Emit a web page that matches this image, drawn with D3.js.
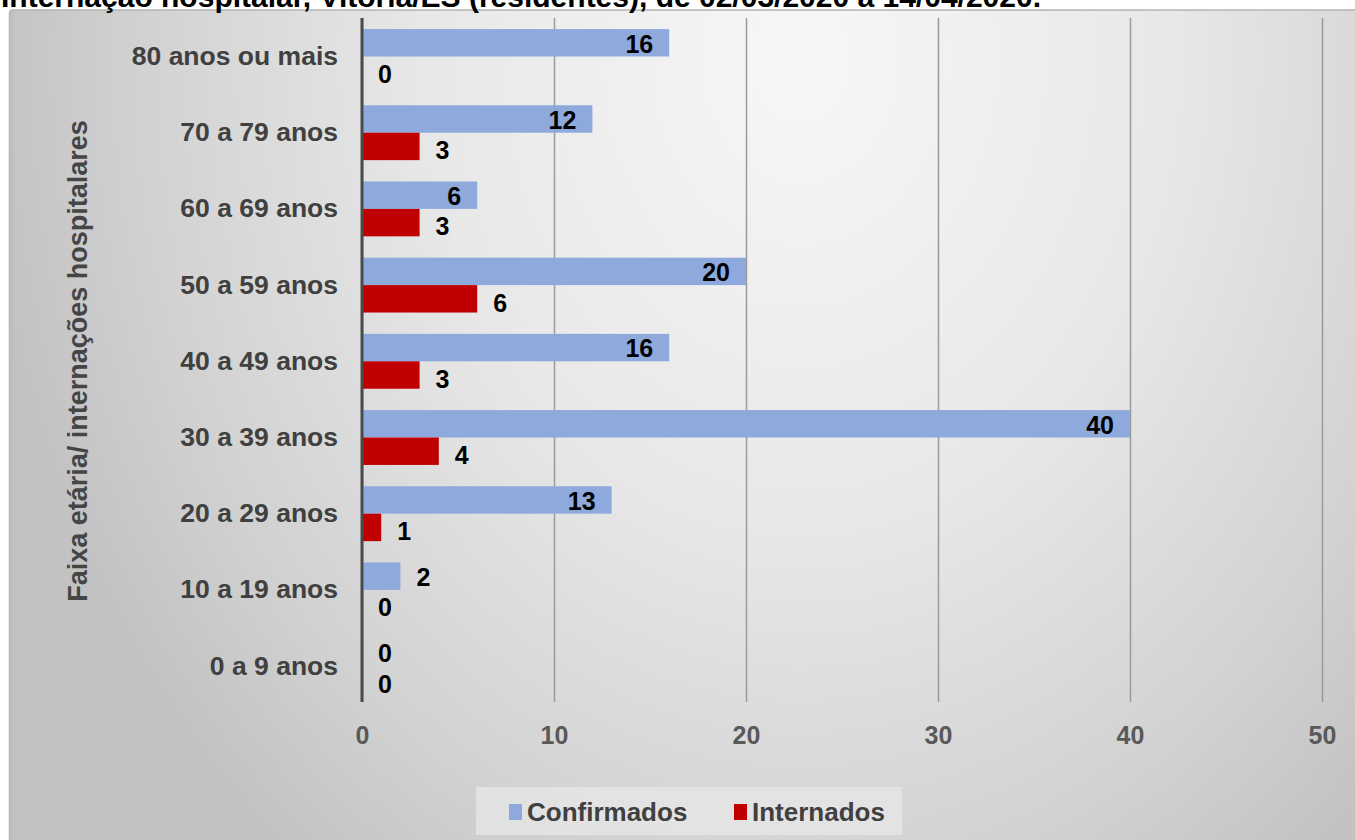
<!DOCTYPE html>
<html>
<head>
<meta charset="utf-8">
<script src="https://cdn.jsdelivr.net/npm/d3@7"></script>
<style>
  html, body { margin: 0; padding: 0; background: #ffffff; }
  svg { display: block; font-family: "Liberation Sans", Arial, sans-serif; }
</style>
</head>
<body>
<svg id="chart" width="1355" height="840"></svg>
<script>
// ---- data ----
const titleText = "Internação hospitalar, Vitória/ES (residentes), de 02/03/2020 a 14/04/2020.";
const yAxisTitle = "Faixa etária/ internações hospitalares";
const categories = ["80 anos ou mais", "70 a 79 anos", "60 a 69 anos", "50 a 59 anos", "40 a 49 anos",
                    "30 a 39 anos", "20 a 29 anos", "10 a 19 anos", "0 a 9 anos"];
const confirmados = [16, 12, 6, 20, 16, 40, 13, 2, 0];
const internados  = [0, 3, 3, 6, 3, 4, 1, 0, 0];
const seriesNames = ["Confirmados", "Internados"];
const xTicks = [0, 10, 20, 30, 40, 50];

// ---- layout/styles ----
const W = 1355, H = 840;
const colors = { Confirmados: "#8eaadc", Internados: "#c00000" };
const svg = d3.select("#chart");
const defs = svg.append("defs");

const grad = defs.append("radialGradient")
  .attr("id", "bg").attr("gradientUnits", "userSpaceOnUse")
  .attr("cx", 800).attr("cy", 60).attr("r", 820)
  .attr("gradientTransform", "translate(800,60) scale(1,1.25) translate(-800,-60)");
grad.append("stop").attr("offset", "0%").attr("stop-color", "#f7f7f7");
grad.append("stop").attr("offset", "45%").attr("stop-color", "#e8e8e8");
grad.append("stop").attr("offset", "80%").attr("stop-color", "#d2d2d2");
grad.append("stop").attr("offset", "100%").attr("stop-color", "#c2c2c2");

// chart panel
svg.append("rect").attr("x", 9.5).attr("y", 10).attr("width", W).attr("height", H)
  .attr("rx", 3).attr("fill", "url(#bg)").attr("stroke", "#b4b4b4").attr("stroke-width", 1.5);
svg.append("rect").attr("x", 10).attr("y", 11).attr("width", 4).attr("height", H)
  .attr("fill", "#bdbdbd").attr("opacity", 0.6);

// title (cropped at top, as in the source image)
svg.append("text").attr("x", 1).attr("y", 7)
  .attr("font-size", 30).attr("font-weight", "bold").attr("fill", "#000")
  .text(titleText);

// scales
const x = d3.scaleLinear().domain([0, 50]).range([362, 1322]);
const y = d3.scaleBand().domain(categories).range([18.4, 704.2]).paddingInner(0.28).paddingOuter(0.14);
const sub = d3.scaleBand().domain(seriesNames).range([0, y.bandwidth()]);

const plotTop = 18, plotBottom = 702;

// gridlines
const xAxis = d3.axisBottom(x).tickValues(xTicks).tickSize(-(plotBottom - plotTop)).tickPadding(24);
const gx = svg.append("g").attr("transform", `translate(0,${plotBottom})`).call(xAxis);
gx.select(".domain").remove();
gx.selectAll(".tick line").attr("stroke", "#9a9a9a").attr("stroke-width", 1.5);
gx.selectAll(".tick text").attr("font-size", 25).attr("font-weight", "bold")
  .attr("fill", "#595959").attr("font-family", "Liberation Sans, Arial, sans-serif");

// category axis
const yAxis = d3.axisLeft(y).tickSize(0).tickPadding(24);
const gy = svg.append("g").attr("transform", `translate(362,0)`).call(yAxis);
gy.select(".domain").remove();
gy.selectAll(".tick text").attr("font-size", 26.5).attr("font-weight", "bold")
  .attr("fill", "#404040").attr("font-family", "Liberation Sans, Arial, sans-serif");

// bars
const rows = categories.map((c, i) => ({ cat: c, Confirmados: confirmados[i], Internados: internados[i] }));
const groups = svg.append("g").selectAll("g").data(rows).join("g")
  .attr("transform", d => `translate(0,${y(d.cat)})`);

groups.selectAll("rect").data(d => seriesNames.map(s => ({ s, v: d[s] }))).join("rect")
  .attr("x", x(0)).attr("y", d => sub(d.s))
  .attr("width", d => x(d.v) - x(0)).attr("height", sub.bandwidth())
  .attr("fill", d => colors[d.s]);

// data labels
groups.selectAll("text").data(d => seriesNames.map(s => ({ s, v: d[s] }))).join("text")
  .each(function(d) {
    const w = x(d.v) - x(0);
    const inside = d.s === "Confirmados" && w > 60;
    d3.select(this)
      .attr("x", inside ? x(d.v) - 16 : x(d.v) + 16)
      .attr("text-anchor", inside ? "end" : "start")
      .attr("y", sub(d.s) + sub.bandwidth() / 2 + (d.s === "Internados" ? 4 : 1))
      .attr("dy", "0.35em");
  })
  .attr("font-size", 25).attr("font-weight", "bold").attr("fill", "#000")
  .text(d => d.v);

// zero axis line
svg.append("line").attr("x1", x(0)).attr("x2", x(0)).attr("y1", plotTop).attr("y2", plotBottom)
  .attr("stroke", "#4a4a4a").attr("stroke-width", 3);

// y axis title
svg.append("text").attr("transform", "translate(87,361) rotate(-90)")
  .attr("text-anchor", "middle").attr("font-size", 27).attr("font-weight", "bold").attr("fill", "#454545")
  .text(yAxisTitle);

// legend
const lg = svg.append("g");
lg.append("rect").attr("x", 476).attr("y", 787).attr("width", 426).attr("height", 48)
  .attr("fill", "#e6e6e6").attr("opacity", 0.8);
const legendItems = [{ s: "Confirmados", mx: 509, tx: 527 }, { s: "Internados", mx: 734, tx: 752 }];
legendItems.forEach(it => {
  lg.append("rect").attr("x", it.mx).attr("y", 804).attr("width", 13).attr("height", 16).attr("fill", colors[it.s]);
  lg.append("text").attr("x", it.tx).attr("y", 821).attr("font-size", 26).attr("font-weight", "bold")
    .attr("fill", "#404040").text(it.s);
});
</script>
</body>
</html>
